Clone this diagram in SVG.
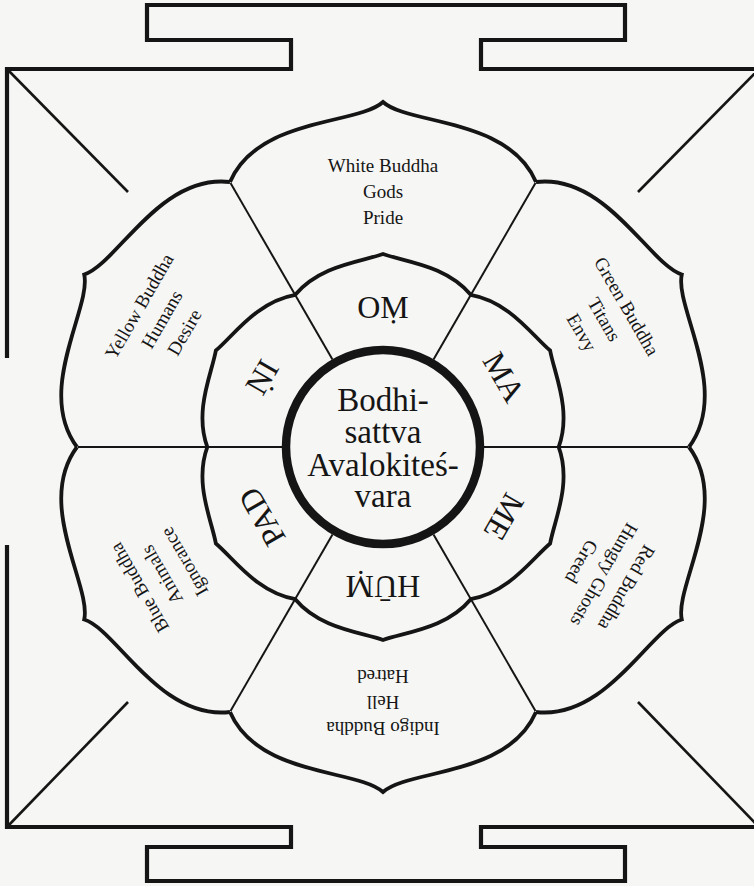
<svg xmlns="http://www.w3.org/2000/svg" width="754" height="886" viewBox="0 0 754 886">
<style>
.bg{fill:#f6f6f4}
.frame{fill:none;stroke:#151515;stroke-width:4.2;stroke-linejoin:miter}
.diag{fill:none;stroke:#151515;stroke-width:2.6}
.lotus{fill:none;stroke:#151515;stroke-width:3.8;stroke-linejoin:miter}
.ray{fill:none;stroke:#151515;stroke-width:2}
.hub{fill:none;stroke:#151515;stroke-width:8.5}
text{font-family:"Liberation Serif","Times New Roman","DejaVu Serif",serif;fill:#151515;text-anchor:middle}
.lab{font-size:19px}
.syl{font-size:32px}
.ctr{font-size:33px}
</style>
<defs>
<path id="op" d="M -153,-265 C -125,-330 -25,-322 0,-345 C 25,-322 125,-330 153,-265"/>
<path id="ip" d="M -88,-152 C -63,-182 -22,-185 0,-193 C 22,-185 63,-182 88,-152"/>
</defs>
<rect class="bg" x="0" y="0" width="754" height="886"/>
<g id="frame">
<path class="frame" d="M7,358 V69 H291 V40 H147 V5 H625 V40 H481 V69 H759 V358"/>
<path class="frame" d="M7,545 V827 H291 V847 H147 V881 H625 V847 H481 V827 H759 V545"/>
</g>
<g id="connectors">
<g id="corner-lines" class="diag">
<path d="M7,69 L128,192"/>
<path d="M759,69 L638,192"/>
<path d="M7,827 L128,702"/>
<path d="M759,827 L638,702"/>
</g>
<g id="rays" class="ray" transform="translate(383,447)">
<path d="M101,0 L305,0"/>
<path d="M50.5,-87.5 L152.5,-264"/>
<path d="M-50.5,-87.5 L-152.5,-264"/>
<path d="M-101,0 L-305,0"/>
<path d="M-50.5,87.5 L-152.5,264"/>
<path d="M50.5,87.5 L152.5,264"/>
</g>
</g>
<g id="outer-lotus" class="lotus" transform="translate(383,447)">
<use href="#op"/>
<use href="#op" transform="rotate(60)"/>
<use href="#op" transform="rotate(120)"/>
<use href="#op" transform="rotate(180)"/>
<use href="#op" transform="rotate(240)"/>
<use href="#op" transform="rotate(300)"/>
</g>
<g id="inner-lotus" class="lotus" transform="translate(383,447)">
<use href="#ip"/>
<use href="#ip" transform="rotate(60)"/>
<use href="#ip" transform="rotate(120)"/>
<use href="#ip" transform="rotate(180)"/>
<use href="#ip" transform="rotate(240)"/>
<use href="#ip" transform="rotate(300)"/>
</g>
<g id="center">
<circle class="hub" cx="383" cy="447" r="97"/>
<text class="ctr" x="383" y="411">Bodhi-</text>
<text class="ctr" x="383" y="443">sattva</text>
<text class="ctr" x="383" y="476">Avalokiteś-</text>
<text class="ctr" x="383" y="507">vara</text>
</g>
<g id="petal-white" transform="translate(383,447)">
<text class="lab" y="-275">White Buddha</text><text class="lab" y="-249">Gods</text><text class="lab" y="-223">Pride</text>
</g>
<g id="petal-green" transform="translate(383,447) rotate(60)">
<text class="lab" y="-275">Green Buddha</text><text class="lab" y="-249">Titans</text><text class="lab" y="-223">Envy</text>
</g>
<g id="petal-red" transform="translate(383,447) rotate(120)">
<text class="lab" y="-275">Red Buddha</text><text class="lab" y="-249">Hungry Ghosts</text><text class="lab" y="-223">Greed</text>
</g>
<g id="petal-indigo" transform="translate(383,447) rotate(180)">
<text class="lab" y="-275">Indigo Buddha</text><text class="lab" y="-249">Hell</text><text class="lab" y="-223">Hatred</text>
</g>
<g id="petal-blue" transform="translate(383,447) rotate(240)">
<text class="lab" y="-275">Blue Buddha</text><text class="lab" y="-249">Animals</text><text class="lab" y="-223">Ignorance</text>
</g>
<g id="petal-yellow" transform="translate(383,447) rotate(300)">
<text class="lab" y="-275">Yellow Buddha</text><text class="lab" y="-249">Humans</text><text class="lab" y="-223">Desire</text>
</g>
<g id="syl-om" transform="translate(383,447)"><text class="syl" y="-129">OṂ</text></g>
<g id="syl-ma" transform="translate(383,447) rotate(60)"><text class="syl" y="-129">MA</text></g>
<g id="syl-me" transform="translate(383,447) rotate(120)"><text class="syl" y="-129">ME</text></g>
<g id="syl-hum" transform="translate(383,447) rotate(180)"><text class="syl" y="-129">HŪṂ</text></g>
<g id="syl-pad" transform="translate(383,447) rotate(240)"><text class="syl" y="-129">PAD</text></g>
<g id="syl-ni" transform="translate(383,447) rotate(300)"><text class="syl" y="-129">ṆI</text></g>
</svg>
